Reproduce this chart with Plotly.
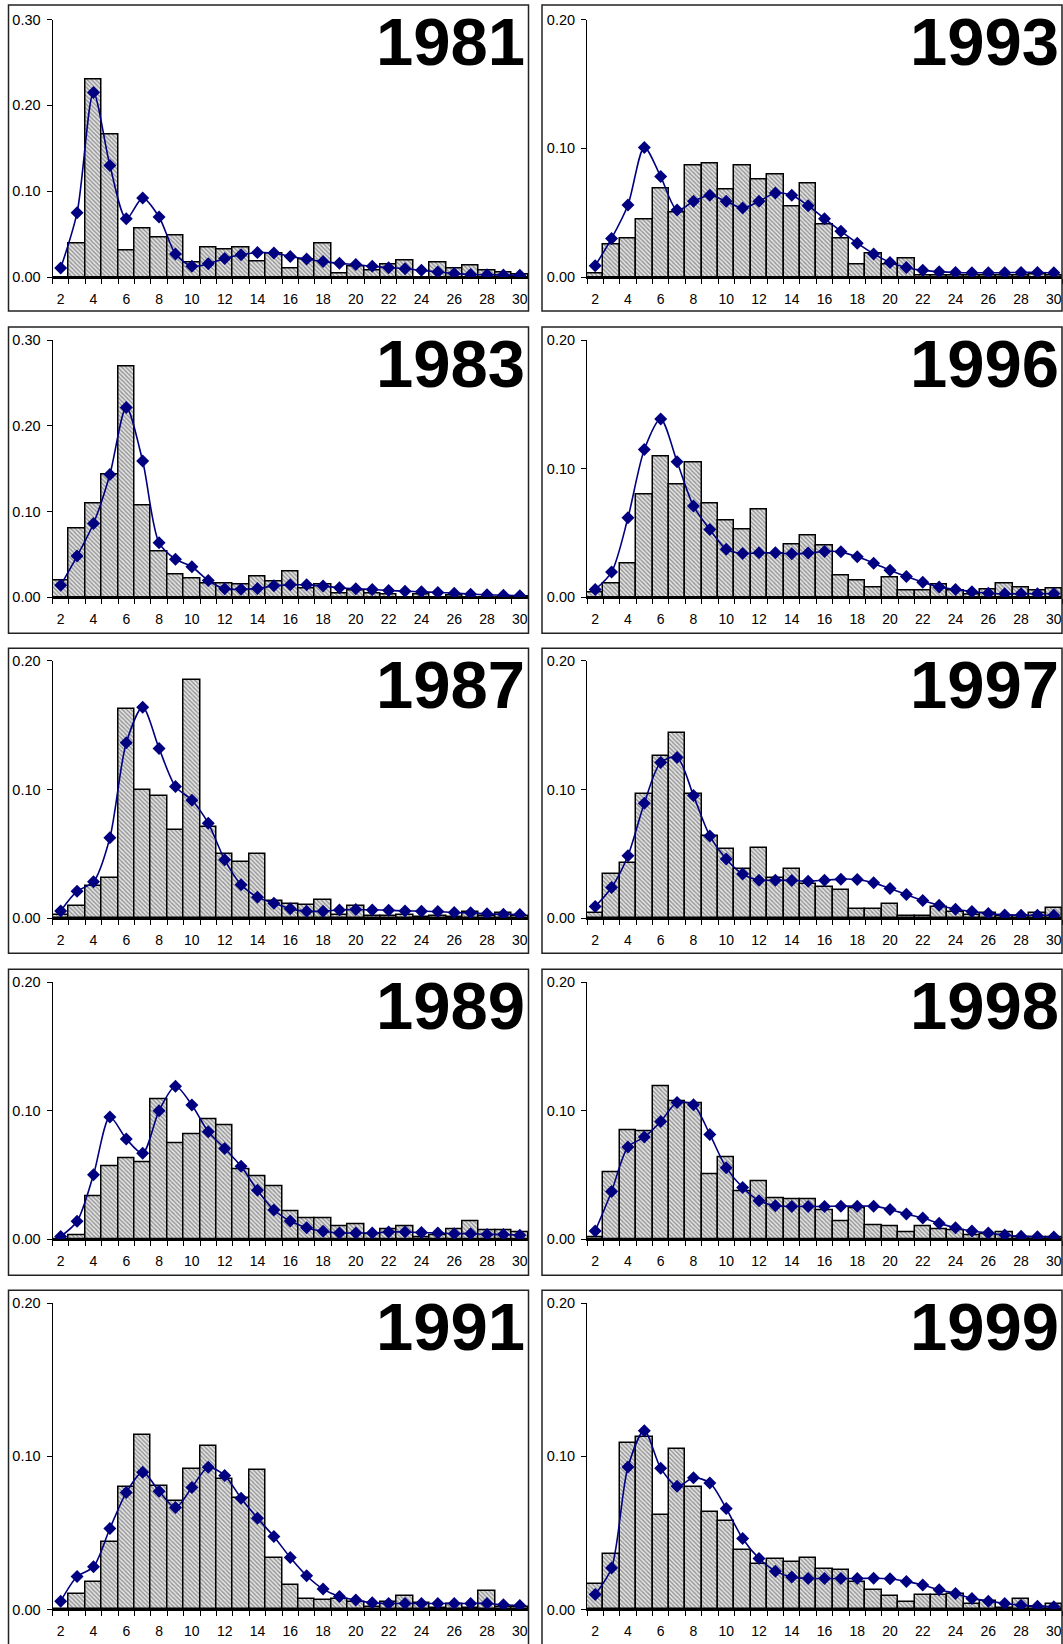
import plotly.graph_objects as go

# ---------------- data ----------------
AGES = [2, 3, 4, 5, 6, 7, 8, 9, 10, 11, 12, 13, 14, 15, 16, 17, 18, 19, 20, 21, 22, 23, 24, 25, 26, 27, 28, 29, 30]
AGE_LABELS = ["2", "4", "6", "8", "10", "12", "14", "16", "18", "20", "22", "24", "26", "28", "30"]
AGE_LABEL_VALUES = [2, 4, 6, 8, 10, 12, 14, 16, 18, 20, 22, 24, 26, 28, 30]

YEARS_LEFT = ["1981", "1983", "1987", "1989", "1991"]
YEARS_RIGHT = ["1993", "1996", "1997", "1998", "1999"]

YMAX = {"1981": 0.30, "1983": 0.30, "1987": 0.20, "1989": 0.20, "1991": 0.20,
        "1993": 0.20, "1996": 0.20, "1997": 0.20, "1998": 0.20, "1999": 0.20}

bars_1981 = [0.0, 0.039, 0.230, 0.166, 0.031, 0.057, 0.046, 0.049, 0.017, 0.034, 0.032, 0.035, 0.018, 0.027,
             0.010, 0.021, 0.039, 0.004, 0.0125, 0.008, 0.0145, 0.019, 0.0, 0.017, 0.010, 0.013, 0.008, 0.005, 0.003]
line_1981 = [0.0105, 0.075, 0.215, 0.130, 0.068, 0.092, 0.070, 0.027, 0.0125, 0.0155, 0.0215, 0.026, 0.0285, 0.028,
             0.024, 0.021, 0.018, 0.016, 0.0145, 0.0125, 0.011, 0.0098, 0.0078, 0.006, 0.0043, 0.003, 0.0027, 0.0023, 0.002]

bars_1983 = [0.020, 0.080, 0.109, 0.143, 0.270, 0.1075, 0.053, 0.0265, 0.022, 0.016, 0.0164, 0.015, 0.024, 0.019,
             0.0296, 0.0105, 0.015, 0.004, 0.008, 0.004, 0.003, 0.0, 0.0027, 0.0, 0.0023, 0.0, 0.0, 0.0, 0.001]
line_1983 = [0.014, 0.048, 0.086, 0.1434, 0.2217, 0.159, 0.0635, 0.0444, 0.0355, 0.0195, 0.0097, 0.0093, 0.0101, 0.0132,
             0.0144, 0.0144, 0.0129, 0.0109, 0.0097, 0.009, 0.0078, 0.007, 0.0062, 0.0055, 0.0047, 0.0035, 0.0027, 0.0023, 0.0016]

bars_1987 = [0.003, 0.0096, 0.025, 0.031, 0.1626, 0.100, 0.095, 0.0688, 0.185, 0.0712, 0.050, 0.044, 0.050, 0.0135,
             0.0114, 0.0104, 0.014, 0.003, 0.010, 0.002, 0.002, 0.003, 0.001, 0.002, 0.001, 0.005, 0.002, 0.004, 0.002]
line_1987 = [0.0057, 0.021, 0.0283, 0.0626, 0.1364, 0.164, 0.132, 0.1023, 0.0917, 0.0738, 0.0455, 0.026, 0.0164, 0.0117,
             0.0073, 0.0055, 0.0055, 0.0065, 0.0068, 0.0065, 0.0062, 0.0057, 0.0055, 0.0052, 0.0044, 0.0042, 0.0034, 0.0031, 0.0029]

bars_1989 = [0.0, 0.0026, 0.0335, 0.0566, 0.0626, 0.0597, 0.1086, 0.0745, 0.0816, 0.0935, 0.0886, 0.054, 0.0486, 0.0408,
             0.0216, 0.0164, 0.0164, 0.0096, 0.0117, 0.004, 0.0075, 0.0096, 0.0016, 0.0026, 0.0075, 0.0138, 0.0068, 0.0068, 0.0055]
line_1989 = [0.002, 0.0138, 0.050, 0.095, 0.078, 0.0668, 0.100, 0.119, 0.1044, 0.0836, 0.0706, 0.0566, 0.038, 0.0226,
             0.014, 0.0088, 0.006, 0.0047, 0.0047, 0.0047, 0.0055, 0.0055, 0.005, 0.0047, 0.0042, 0.0042, 0.0036, 0.0036, 0.0029]

bars_1991 = [0.0, 0.0098, 0.0178, 0.0439, 0.0798, 0.1137, 0.0807, 0.0707, 0.0917, 0.1065, 0.0852, 0.0728, 0.0909, 0.0337,
             0.0159, 0.007, 0.0059, 0.0065, 0.0048, 0.0017, 0.0048, 0.0087, 0.0039, 0.001, 0.0033, 0.001, 0.012, 0.0013, 0.0013]
line_1991 = [0.0054, 0.0215, 0.0278, 0.0528, 0.0763, 0.0896, 0.0772, 0.0665, 0.0796, 0.0928, 0.0874, 0.0726, 0.0596, 0.0476,
             0.0339, 0.022, 0.0133, 0.0085, 0.0061, 0.0043, 0.0039, 0.0039, 0.0039, 0.0039, 0.0039, 0.0039, 0.0039, 0.003, 0.0026]

bars_1993 = [0.0026, 0.025, 0.0296, 0.045, 0.069, 0.050, 0.087, 0.088, 0.068, 0.087, 0.076, 0.080, 0.0546, 0.073,
             0.0406, 0.0296, 0.0096, 0.018, 0.0096, 0.0148, 0.001, 0.001, 0.0013, 0.001, 0.0015, 0.0013, 0.0015, 0.0018, 0.0015]
line_1993 = [0.0088, 0.030, 0.056, 0.1007, 0.078, 0.052, 0.0588, 0.0635, 0.0588, 0.0536, 0.0588, 0.0653, 0.0635, 0.0554,
             0.0453, 0.0356, 0.0263, 0.018, 0.0114, 0.0075, 0.0052, 0.0042, 0.0036, 0.0034, 0.0034, 0.0034, 0.0036, 0.0036, 0.0034]

bars_1996 = [0.0039, 0.011, 0.026, 0.080, 0.110, 0.0875, 0.1047, 0.073, 0.060, 0.053, 0.068, 0.034, 0.041, 0.048,
             0.040, 0.017, 0.013, 0.0078, 0.0153, 0.005, 0.005, 0.0096, 0.0052, 0.0018, 0.006, 0.011, 0.008, 0.005, 0.007]
line_1996 = [0.006, 0.0195, 0.0618, 0.115, 0.1387, 0.1055, 0.071, 0.0527, 0.0374, 0.034, 0.0345, 0.0345, 0.0338, 0.0343,
             0.0356, 0.0353, 0.0314, 0.0265, 0.021, 0.016, 0.0117, 0.008, 0.006, 0.0042, 0.0031, 0.0026, 0.0026, 0.0026, 0.0026]

bars_1997 = [0.004, 0.0348, 0.043, 0.097, 0.126, 0.144, 0.0966, 0.064, 0.054, 0.0387, 0.055, 0.031, 0.038, 0.0265,
             0.0247, 0.0218, 0.0075, 0.0075, 0.011, 0.0016, 0.0016, 0.0088, 0.0047, 0.003, 0.004, 0.002, 0.002, 0.004, 0.0078]
line_1997 = [0.0091, 0.0239, 0.0486, 0.0894, 0.121, 0.125, 0.0953, 0.0639, 0.046, 0.0343, 0.0296, 0.0296, 0.0294, 0.0288,
             0.0296, 0.0304, 0.0301, 0.0275, 0.0231, 0.0184, 0.0138, 0.0101, 0.007, 0.0052, 0.0036, 0.0026, 0.0023, 0.0023, 0.0023]

bars_1998 = [0.001, 0.0517, 0.0849, 0.084, 0.119, 0.1076, 0.1058, 0.0507, 0.0639, 0.037, 0.0448, 0.0316, 0.0308, 0.0308,
             0.0228, 0.0137, 0.0238, 0.0109, 0.0098, 0.0049, 0.0098, 0.0078, 0.0065, 0.0026, 0.0041, 0.0049, 0.0013, 0.001, 0.0013]
line_1998 = [0.0062, 0.037, 0.0717, 0.0794, 0.0916, 0.1063, 0.1045, 0.0815, 0.0556, 0.0401, 0.0298, 0.0259, 0.0254, 0.0254,
             0.0254, 0.0256, 0.0256, 0.0256, 0.023, 0.0194, 0.0163, 0.0122, 0.0088, 0.0062, 0.0047, 0.0031, 0.0021, 0.0018, 0.0016]

bars_1999 = [0.0167, 0.0359, 0.1089, 0.1126, 0.0615, 0.1048, 0.080, 0.0637, 0.0578, 0.0387, 0.0298, 0.0326, 0.0307, 0.0337,
             0.0265, 0.0254, 0.018, 0.0128, 0.0085, 0.0046, 0.0096, 0.0096, 0.0098, 0.0033, 0.0054, 0.0007, 0.0065, 0.0015, 0.0033]
line_1999 = [0.0098, 0.027, 0.093, 0.1167, 0.0922, 0.0804, 0.0859, 0.0826, 0.0659, 0.0463, 0.0333, 0.025, 0.0211, 0.0202,
             0.0202, 0.0202, 0.0202, 0.0204, 0.020, 0.0183, 0.0159, 0.0128, 0.0104, 0.0072, 0.0054, 0.0039, 0.0028, 0.002, 0.0017]

BARS = {"1981": bars_1981, "1983": bars_1983, "1987": bars_1987, "1989": bars_1989, "1991": bars_1991,
        "1993": bars_1993, "1996": bars_1996, "1997": bars_1997, "1998": bars_1998, "1999": bars_1999}
LINES = {"1981": line_1981, "1983": line_1983, "1987": line_1987, "1989": line_1989, "1991": line_1991,
         "1993": line_1993, "1996": line_1996, "1997": line_1997, "1998": line_1998, "1999": line_1999}

# ---------------- layout geometry (target pixels) ----------------
W, H = 1063, 1644
COL_X = [(52.5, 528.0), (587.0, 1062.0)]          # plot area x
FRAME_X = [(8.5, 528.5), (542.0, 1062.0)]          # panel border x
ROW_Y = [(19.5, 277.0), (340.3, 597.0), (660.7, 918.0), (982.0, 1238.7), (1302.7, 1609.0)]
FRAME_Y = [(5.0, 311.0), (327.0, 633.0), (648.0, 953.0), (969.0, 1275.0), (1290.0, 1670.0)]

# vertical calibration of the rendered page (observed offset / scale)
V_OFF, V_SCALE = 8.0, 0.99


def px_x(v):
    return v / W


def px_y(v):
    return 1 - ((v - V_OFF) / V_SCALE) / H


fig = go.Figure()
layout = dict(width=W, height=H, autosize=False, margin=dict(l=0, r=0, t=0, b=0, pad=0),
              paper_bgcolor="white", plot_bgcolor="white", showlegend=False,
              bargap=0, font=dict(family="Liberation Sans, Arial, sans-serif", color="black"))
shapes = []
annotations = []

boundaries = [a - 0.5 for a in AGES] + [AGES[-1] + 0.5]

idx = 0
for col, years in enumerate([YEARS_LEFT, YEARS_RIGHT]):
    for row, yr in enumerate(years):
        idx += 1
        xname = "x" if idx == 1 else f"x{idx}"
        yname = "y" if idx == 1 else f"y{idx}"
        xkey = "xaxis" if idx == 1 else f"xaxis{idx}"
        ykey = "yaxis" if idx == 1 else f"yaxis{idx}"

        fig.add_trace(go.Bar(
            x=AGES, y=BARS[yr], width=1, xaxis=xname, yaxis=yname,
            marker=dict(color="#c8c8c8", line=dict(color="black", width=1.5),
                        pattern=dict(shape="\\", fgcolor="#404040", bgcolor="#e4e4e4",
                                     size=3, solidity=0.45)),
            hoverinfo="skip"))
        fig.add_trace(go.Scatter(
            x=AGES, y=LINES[yr], xaxis=xname, yaxis=yname, mode="lines+markers",
            line=dict(color="#000080", width=1.6, shape="spline", smoothing=0.8),
            marker=dict(symbol="diamond", size=10, color="#000080"),
            hoverinfo="skip"))

        ymax = YMAX[yr]
        yt = [0.0, 0.10, 0.20] + ([0.30] if ymax > 0.25 else [])
        x0, x1 = COL_X[col]
        yt_px, yb_px = ROW_Y[row]
        layout[xkey] = dict(domain=[px_x(x0), px_x(x1)], anchor=yname, range=[1.5, 30.5],
                            tickmode="array", tickvals=AGE_LABEL_VALUES, ticktext=AGE_LABELS,
                            ticks="", showline=True, linecolor="black", linewidth=2,
                            showgrid=False, zeroline=False, tickfont=dict(size=14),
                            ticklabelstandoff=8,
                            minor=dict(tickmode="array", tickvals=boundaries, ticks="outside",
                                       ticklen=5, tickcolor="black", tickwidth=1, showgrid=False))
        layout[ykey] = dict(domain=[px_y(yb_px), px_y(yt_px)], anchor=xname, range=[0, ymax],
                            tickmode="array", tickvals=yt, tickformat=".2f",
                            ticks="outside", ticklen=5, tickcolor="black", tickwidth=1,
                            showline=True, linecolor="black", linewidth=1,
                            showgrid=False, zeroline=False, tickfont=dict(size=14.5),
                            ticklabelstandoff=3)

        fx0, fx1 = FRAME_X[col]
        fy0, fy1 = FRAME_Y[row]
        shapes.append(dict(type="rect", xref="paper", yref="paper",
                           x0=px_x(fx0), x1=px_x(fx1), y0=px_y(fy1), y1=px_y(fy0),
                           line=dict(color="#222222", width=1.5), fillcolor="rgba(0,0,0,0)",
                           layer="above"))
        annotations.append(dict(text=f"<b>{yr}</b>", xref="paper", yref="paper",
                                x=px_x(fx1 - 1.5), y=px_y(fy0 + 36), xanchor="right", yanchor="middle",
                                showarrow=False, font=dict(size=67, color="black",
                                                           family="Liberation Sans, Arial, sans-serif")))

layout["shapes"] = shapes
layout["annotations"] = annotations
fig.update_layout(**layout)
fig.write_html("out.html")
